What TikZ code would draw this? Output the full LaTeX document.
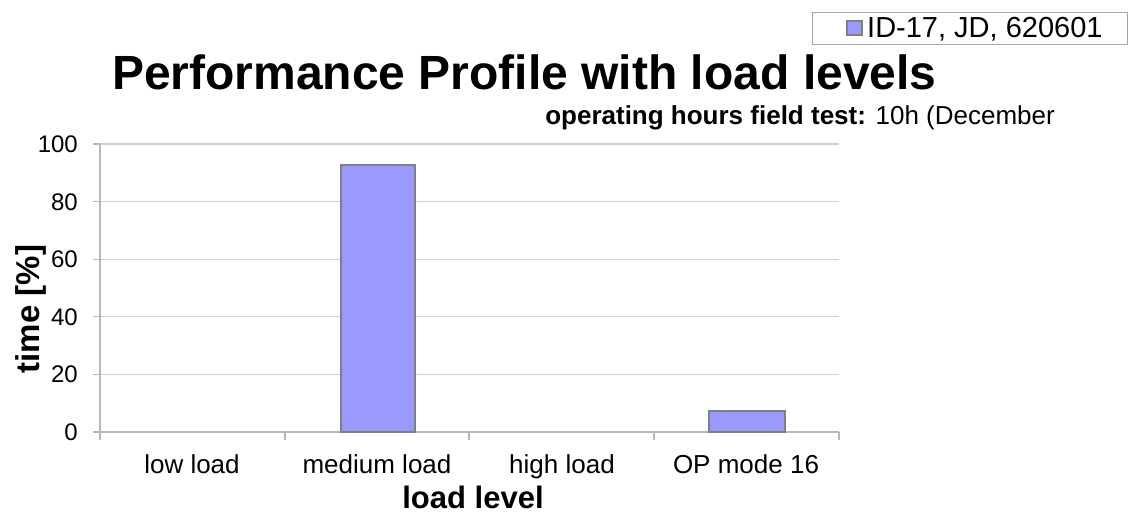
\documentclass[tikz,border=0pt]{standalone}
\usepackage{fontspec}
\setmainfont{Liberation Sans}
\newcommand{\fsz}[1]{\fontsize{#1}{#1}\selectfont}
\begin{document}
\begin{tikzpicture}[x=1pt,y=-1pt,
  gridline/.style={draw=black!18,line width=1.3pt},
  axisline/.style={draw=black!28,line width=1.3pt},
  bar/.style={draw=black!50,line width=2.2pt,fill=barblue},
  ticklabel/.style={anchor=base east,inner sep=0pt,font=\fsz{24}},
  catlabel/.style={anchor=base,inner sep=0pt,font=\fsz{26}},
  axistitle/.style={inner sep=0pt,font=\fsz{31}\bfseries}]
\definecolor{barblue}{HTML}{9999FF}
\useasboundingbox[fill=white] (0,0) rectangle (1128,514);
% gridlines at 20 % steps (2.88 px per percent)
\foreach \v in {20,40,60,80,100}
  \draw[gridline] (100,{432-2.88*\v}) -- (839,{432-2.88*\v});
% axes and tick marks
\draw[axisline] (100,144) -- (100,432) -- (839,432);
\foreach \v in {0,20,...,100}
  \draw[axisline] (93,{432-2.88*\v}) -- (100,{432-2.88*\v});
\foreach \x in {100,285,469,654,839}
  \draw[axisline] (\x,432) -- (\x,440);
% tick labels
\foreach \v in {0,20,...,100}
  \node[ticklabel] (y\v) at (78,{432-2.88*\v+8.5}) {\v};
% bars
\draw[bar] (341,432) rectangle (415,{432-2.88*92.7});
\draw[bar] (709,432) rectangle (785,{432-2.88*7.3});
% category labels
\node[catlabel] (c1) at (192,473) {low load};
\node[catlabel] (c2) at (377,473) {medium load};
\node[catlabel] (c3) at (562,473) {high load};
\node[catlabel] (c4) at (746,473) {OP mode 16};
% axis titles
\node[axistitle,anchor=base] (xt) at (473,508) {load level};
\node[axistitle,font=\fsz{33}\bfseries,rotate=90,anchor=base] (yt) at (39,309) {time [\%]};
% title and subtitle
\node[anchor=base west,inner sep=0pt,font=\fsz{48}\bfseries] (title) at (112,89)
  {Performance Profile with load levels};
\node[anchor=base east,inner sep=0pt,font=\fsz{26}] (sub) at (1055,124)
  {\textbf{operating hours field test:} 10h (December};
% legend
\draw[draw=black!35,line width=1pt,fill=white] (812,12) rectangle (1127,44);
\draw[draw=black!50,line width=1.2pt,fill=barblue] (847,21) rectangle (862,35);
\node[anchor=base west,inner sep=0pt,font=\fsz{29}] (leg) at (867,37) {ID-17, JD, 620601};
\end{tikzpicture}
\end{document}
